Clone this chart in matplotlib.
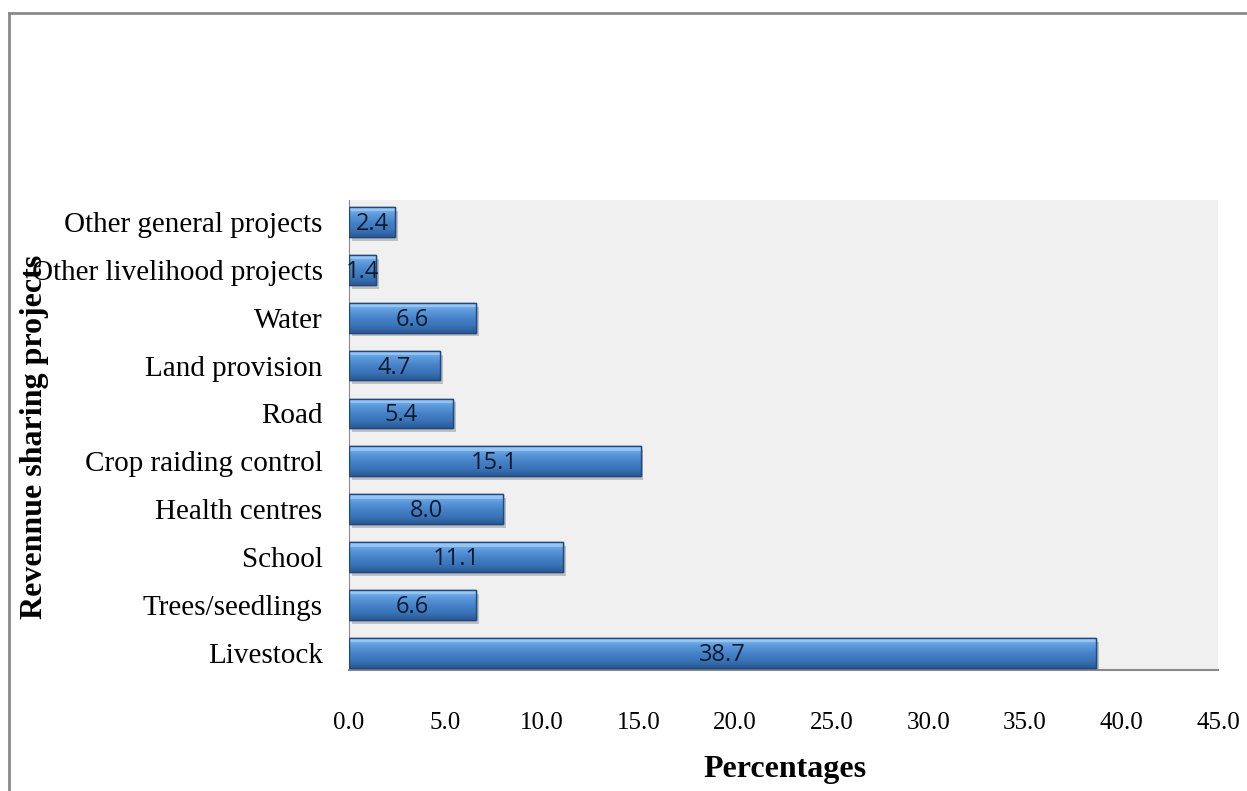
import numpy as np
import matplotlib.pyplot as plt
from matplotlib.patches import Rectangle
from matplotlib.lines import Line2D
from matplotlib.colors import LinearSegmentedColormap

categories = ["Livestock", "Trees/seedlings", "School", "Health centres",
              "Crop raiding control", "Road", "Land provision", "Water",
              "Other livelihood projects", "Other general projects"]
values = [38.7, 6.6, 11.1, 8.0, 15.1, 5.4, 4.7, 6.6, 1.4, 2.4]
xticks = np.arange(0, 45.1, 5)

fig = plt.figure(figsize=(12.47, 7.91), dpi=100)
ax = fig.add_axes([349/1247, 1 - 670/791, 869/1247, 470/791])
ax.set_facecolor("#f0f0f0")

# frame around the chart
fig.add_artist(Line2D([9/1247, 9/1247], [0, 1 - 13/791], color="#8a8a8a", lw=2))
fig.add_artist(Line2D([9/1247, 1], [1 - 13/791, 1 - 13/791], color="#8a8a8a", lw=2))

bar_h = 0.62
grad = LinearSegmentedColormap.from_list(
    "bevel", ["#2a5a98", "#3b74b8", "#4683c9", "#5e9bdc", "#86bcf0"])
ramp = np.linspace(0, 1, 64).reshape(-1, 1)

pos = np.arange(len(categories))
for y, v in zip(pos, values):
    # drop shadow
    ax.add_patch(Rectangle((0.15, y - bar_h/2 - 0.08), v, bar_h,
                           facecolor="#000000", alpha=0.2, lw=0, zorder=2))
    base = Rectangle((0, y - bar_h/2), v, bar_h, facecolor="#3f7cc2",
                     edgecolor="#1f4a80", lw=1.0, zorder=3)
    ax.add_patch(base)
    im = ax.imshow(ramp, cmap=grad, aspect="auto", origin="lower",
                   extent=[0, v, y - bar_h/2, y + bar_h/2], zorder=3.5)
    im.set_clip_path(base)
    # bevel highlight along the top edge
    ax.add_patch(Rectangle((0, y + bar_h/2 - 0.09), v, 0.09,
                           facecolor="#a6d2f8", alpha=0.65, lw=0, zorder=4))
    ax.add_patch(Rectangle((0, y - bar_h/2), v, bar_h, facecolor="none",
                           edgecolor="#1f4a80", lw=1.0, zorder=4.5))
    ax.text(v / 2, y - 0.04, f"{v:.1f}", ha="center", va="center", fontsize=17,
            family="Open Sans", color="#111a2a", zorder=5)

ax.set_xlim(0, 45)
ax.set_ylim(-0.36, 9.46)
ax.set_xticks(xticks)
ax.set_xticklabels([f"{t:.1f}" for t in xticks], family="Liberation Serif",
                   fontsize=18)
ax.set_yticks(pos)
ax.set_yticklabels(categories, family="Liberation Serif", fontsize=21)
ax.tick_params(axis="both", length=0)
ax.tick_params(axis="x", pad=30)
ax.tick_params(axis="y", pad=19)

for s in ["top", "right"]:
    ax.spines[s].set_visible(False)
ax.spines["left"].set_color("#8a8a8a")
ax.spines["bottom"].set_color("#8a8a8a")
ax.spines["bottom"].set_linewidth(1.5)

fig.text(785/1247, 1 - 770/791, "Percentages", ha="center", va="center",
         family="Liberation Serif", fontsize=23, fontweight="bold")
fig.text(35/1247, 1 - 437/791, "Revennue sharing projects", ha="center",
         va="center", rotation=90, family="Liberation Serif", fontsize=23,
         fontweight="bold")

fig.savefig("out.png", dpi=100)
